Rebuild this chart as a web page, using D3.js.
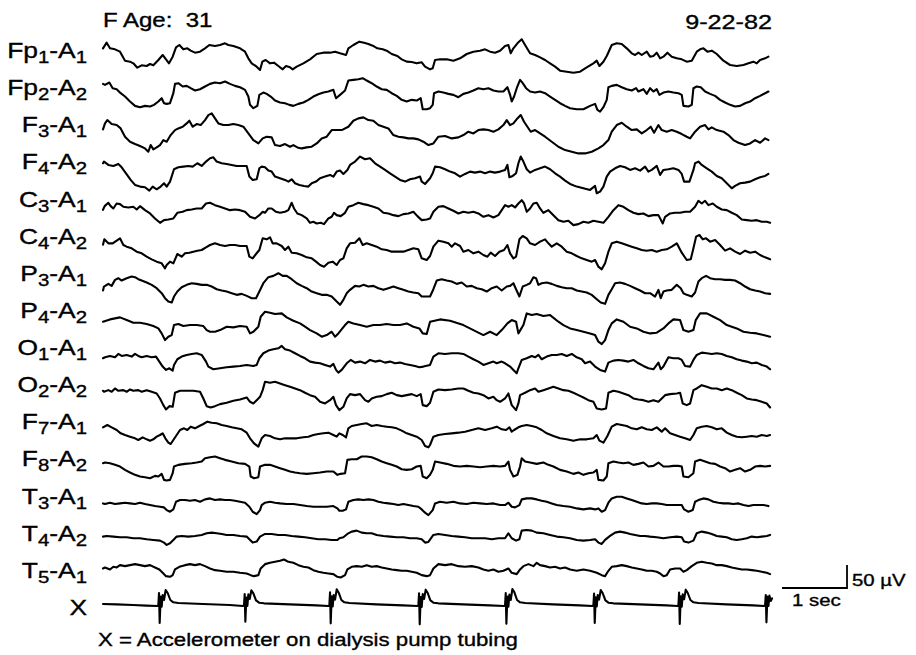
<!DOCTYPE html>
<html><head><meta charset="utf-8">
<script src="https://cdn.jsdelivr.net/npm/d3@7"></script>
<style>
body{margin:0;background:#fff}
svg{display:block}
text{font-family:"Liberation Sans",Arial,Helvetica,sans-serif;fill:#000;stroke:#000;stroke-width:0.35px;white-space:pre}
</style>
</head><body>
<svg id="chart" width="916" height="655"></svg>
<script>
// ---------- metadata ----------
const FS = 195;                 // samples per second
const UV_PER_COUNT = 50 / 69;   // calibration: counts -> microvolts
const titleLeft = "F Age:  31";
const titleRight = "9-22-82";
const footnote = "X = Accelerometer on dialysis pump tubing";
const calTimeLabel = "1 sec";
const calAmpLabel = "50 µV";
const calSeconds = 1;
const calMicrovolts = 50;

// channel labels: [electrode, index, reference, index]
const labelParts = [
  ["Fp","1","A","1"],["Fp","2","A","2"],["F","3","A","1"],["F","4","A","2"],
  ["C","3","A","1"],["C","4","A","2"],["P","3","A","1"],["P","4","A","2"],
  ["O","1","A","1"],["O","2","A","2"],["F","7","A","1"],["F","8","A","2"],
  ["T","3","A","1"],["T","4","A","2"],["T","5","A","1"],["X"]
];

// ---------- signals: [sample, counts] ----------
const fp1A1 = [[0,26],[11,43],[21,26],[36,23],[51,16],[66,-11],[81,-14],[91,-19],[103,-32],[116,-25],[131,-27],[141,-21],[151,-25],[166,-9],[179,6],[189,-7],[198,-19],[209,1],[219,29],[229,36],[241,23],[253,26],[263,19],[276,13],[291,16],[306,26],[319,36],[336,33],[351,36],[366,41],[376,36],[391,33],[411,26],[426,16],[436,-4],[446,-19],[461,-29],[471,-39],[478,-14],[488,-9],[501,-19],[513,-17],[526,-27],[539,-37],[549,-27],[561,-31],[569,-37],[581,-29],[601,-19],[621,-7],[641,9],[661,13],[681,13],[696,16],[711,11],[729,6],[736,26],[751,36],[769,46],[783,43],[796,39],[809,34],[823,26],[839,23],[851,19],[866,9],[883,3],[896,-7],[911,-14],[926,-15],[941,-19],[956,-16],[966,-29],[981,-37],[989,-34],[996,-9],[1011,-7],[1031,-7],[1051,-11],[1071,-4],[1091,9],[1111,16],[1131,19],[1146,23],[1161,16],[1176,13],[1191,19],[1206,33],[1216,36],[1223,11],[1231,26],[1243,41],[1256,53],[1266,36],[1281,11],[1296,6],[1311,-1],[1326,-9],[1341,-19],[1356,-29],[1371,-41],[1391,-44],[1411,-47],[1431,-44],[1451,-31],[1471,-19],[1481,-11],[1489,-27],[1501,-14],[1511,3],[1526,36],[1541,41],[1556,39],[1571,26],[1586,11],[1596,6],[1606,13],[1616,6],[1631,16],[1641,1],[1651,3],[1661,13],[1671,-4],[1681,1],[1693,13],[1706,1],[1721,-4],[1736,-7],[1751,-14],[1766,-11],[1781,16],[1791,23],[1801,26],[1813,16],[1826,19],[1841,9],[1861,-11],[1881,-24],[1901,-27],[1921,-24],[1936,-19],[1951,-14],[1961,-19],[1971,-9],[1986,-4],[1996,1]];

const fp2A2 = [[0,29],[6,26],[19,33],[29,16],[41,13],[53,1],[66,-9],[81,-24],[96,-37],[111,-41],[126,-37],[141,-39],[153,-34],[166,-24],[176,-14],[183,-29],[191,-31],[201,-29],[211,1],[216,29],[226,31],[239,21],[251,23],[263,16],[276,9],[291,13],[306,21],[321,29],[336,33],[351,31],[366,36],[381,29],[396,23],[411,19],[426,11],[436,-9],[441,-34],[451,-44],[463,-37],[469,-4],[481,3],[491,-1],[503,-9],[516,-21],[531,-27],[546,-29],[559,-34],[571,-37],[586,-31],[601,-27],[616,-19],[631,-9],[646,-2],[661,3],[676,6],[691,11],[699,-14],[711,-4],[726,9],[736,39],[751,41],[766,43],[779,46],[791,39],[806,31],[821,21],[836,13],[851,11],[866,1],[881,-7],[896,-19],[911,-24],[926,-19],[941,-21],[953,-14],[959,-47],[971,-47],[981,-44],[989,-34],[993,1],[1006,6],[1021,3],[1036,-1],[1051,-4],[1066,-11],[1081,-1],[1096,3],[1111,9],[1126,16],[1141,13],[1156,16],[1171,9],[1186,6],[1201,6],[1213,19],[1221,-4],[1226,-24],[1233,-9],[1241,16],[1251,41],[1259,31],[1269,16],[1281,6],[1296,3],[1311,6],[1326,1],[1341,-9],[1356,-19],[1371,-29],[1386,-37],[1401,-44],[1421,-47],[1441,-47],[1461,-37],[1476,-31],[1483,-49],[1491,-54],[1501,-41],[1511,-19],[1516,19],[1526,23],[1541,26],[1556,19],[1571,13],[1586,9],[1599,16],[1606,6],[1621,13],[1631,-1],[1641,16],[1651,6],[1661,13],[1669,-4],[1681,3],[1696,6],[1711,3],[1726,1],[1736,-4],[1741,-37],[1756,-39],[1766,-34],[1771,16],[1781,21],[1793,19],[1806,6],[1821,-1],[1836,-7],[1851,-19],[1866,-27],[1881,-34],[1896,-39],[1911,-37],[1926,-29],[1941,-24],[1956,-14],[1971,-7],[1986,1],[1996,6]];

const f3A1 = [[0,2],[6,20],[13,30],[26,18],[41,15],[53,5],[66,-20],[81,-35],[96,-42],[111,-48],[126,-55],[136,-65],[143,-45],[151,-58],[161,-52],[171,-45],[181,-30],[191,-35],[203,-15],[216,0],[226,5],[239,10],[251,20],[259,28],[269,10],[281,18],[293,15],[306,30],[316,45],[326,50],[336,35],[346,20],[361,15],[376,15],[391,18],[406,15],[421,10],[436,-10],[451,-30],[466,-40],[479,-25],[491,-20],[506,-22],[516,-45],[531,-48],[546,-42],[561,-50],[571,-45],[583,-52],[596,-55],[611,-52],[626,-50],[641,-40],[656,-25],[671,-20],[686,0],[701,0],[716,0],[736,10],[751,28],[766,35],[781,38],[796,30],[811,28],[826,15],[841,10],[856,5],[871,-15],[886,-20],[901,-22],[916,-25],[931,-25],[946,-28],[961,-35],[976,-45],[991,-40],[1006,-20],[1026,-18],[1046,-25],[1066,-22],[1081,-15],[1096,-5],[1111,-10],[1126,0],[1141,2],[1156,0],[1171,-5],[1186,2],[1201,15],[1211,30],[1221,15],[1231,20],[1243,35],[1253,45],[1263,25],[1273,10],[1283,-5],[1296,0],[1311,-10],[1326,-20],[1346,-35],[1366,-50],[1386,-60],[1406,-65],[1426,-70],[1446,-70],[1466,-65],[1486,-55],[1501,-45],[1516,-30],[1526,-5],[1541,15],[1556,22],[1571,10],[1586,0],[1601,2],[1616,-10],[1631,0],[1643,10],[1653,-8],[1666,15],[1676,0],[1691,-5],[1706,0],[1721,-5],[1736,-12],[1751,-20],[1761,-25],[1776,-5],[1791,10],[1806,15],[1816,2],[1826,8],[1841,0],[1861,-5],[1876,-15],[1891,-30],[1906,-38],[1926,-45],[1941,-40],[1956,-30],[1971,-38],[1986,-25],[1996,-30]];

const f4A2 = [[0,10],[3,15],[16,5],[31,2],[46,8],[56,-2],[69,-20],[83,-40],[96,-55],[111,-60],[126,-62],[139,-72],[149,-60],[161,-68],[173,-60],[183,-50],[191,-60],[201,-45],[213,-8],[226,-2],[241,0],[256,2],[269,0],[283,10],[296,2],[309,15],[321,25],[331,28],[341,15],[356,10],[371,8],[386,5],[401,2],[416,2],[431,2],[439,-30],[449,-40],[461,-38],[469,-5],[476,0],[486,-2],[496,-12],[506,-15],[516,-30],[531,-35],[546,-40],[556,-45],[566,-38],[576,-50],[589,-55],[603,-58],[616,-60],[626,-50],[639,-45],[651,-35],[666,-30],[681,-25],[691,-30],[701,-15],[711,-12],[721,-22],[733,-10],[741,5],[756,15],[771,30],[786,22],[801,25],[816,10],[831,0],[846,-10],[861,-20],[876,-30],[891,-40],[906,-45],[921,-38],[936,-35],[951,-30],[956,-45],[966,-52],[981,-35],[989,-20],[996,0],[1011,-2],[1026,-8],[1041,-15],[1056,-20],[1071,-30],[1086,-22],[1101,-15],[1116,-18],[1131,-15],[1146,-20],[1161,-15],[1176,-18],[1191,-15],[1206,-10],[1213,5],[1219,-32],[1229,-28],[1239,-20],[1246,10],[1253,30],[1261,15],[1271,-8],[1281,-18],[1296,-10],[1311,-5],[1326,0],[1341,-8],[1356,-20],[1371,-30],[1386,-42],[1401,-52],[1421,-60],[1441,-65],[1461,-70],[1476,-58],[1481,-80],[1491,-75],[1501,-60],[1511,-30],[1521,-15],[1536,-5],[1551,2],[1566,-2],[1581,-10],[1596,-5],[1611,-12],[1626,0],[1636,-15],[1646,-10],[1661,2],[1671,-25],[1681,-10],[1696,-8],[1711,-5],[1726,-10],[1736,-22],[1743,-45],[1759,-45],[1771,-10],[1776,10],[1786,15],[1796,5],[1811,-5],[1826,-15],[1841,-28],[1856,-35],[1871,-50],[1886,-65],[1896,-58],[1911,-50],[1926,-48],[1941,-45],[1956,-38],[1971,-32],[1986,-28],[1996,-22]];

const c3A1 = [[0,-20],[5,-9],[16,1],[23,-9],[31,-16],[41,-1],[51,-3],[61,-11],[76,-13],[91,-11],[101,-19],[111,-9],[126,-21],[141,-31],[156,-46],[171,-59],[183,-51],[196,-49],[211,-46],[223,-29],[239,-26],[251,-21],[266,-19],[281,-16],[296,-16],[309,-1],[321,1],[336,-6],[351,-11],[366,-16],[381,-21],[396,-19],[411,-21],[426,-26],[441,-41],[456,-46],[469,-36],[479,-26],[486,-29],[496,-16],[506,-16],[519,-26],[531,-29],[546,-26],[556,-21],[566,1],[573,-16],[583,-31],[596,-36],[611,-46],[621,-59],[631,-56],[641,-61],[653,-59],[663,-63],[676,-46],[686,-41],[693,-29],[701,-36],[713,-39],[726,-29],[736,-11],[751,-6],[766,1],[781,-3],[796,-6],[811,-11],[826,-16],[841,-29],[856,-31],[871,-36],[886,-39],[901,-33],[916,-31],[931,-26],[943,-39],[956,-51],[971,-49],[981,-46],[991,-26],[1006,-11],[1021,-9],[1036,-16],[1051,-23],[1066,-31],[1081,-26],[1096,-29],[1111,-26],[1126,-31],[1141,-41],[1156,-36],[1171,-43],[1186,-36],[1196,-21],[1206,-6],[1216,-11],[1226,-6],[1236,-13],[1246,-1],[1256,9],[1263,-1],[1271,-26],[1281,-16],[1291,-1],[1301,1],[1311,-16],[1321,-29],[1336,-21],[1351,-36],[1366,-51],[1381,-56],[1396,-53],[1411,-66],[1426,-63],[1441,-56],[1456,-59],[1471,-53],[1486,-56],[1501,-59],[1516,-41],[1531,-21],[1546,-6],[1561,-11],[1576,-21],[1591,-29],[1606,-33],[1621,-31],[1636,-39],[1651,-36],[1666,-36],[1679,-61],[1686,-41],[1701,-31],[1716,-29],[1731,-29],[1746,-26],[1761,-26],[1776,-11],[1786,7],[1796,-1],[1806,7],[1816,-6],[1829,-1],[1841,-11],[1856,-19],[1871,-21],[1886,-29],[1901,-36],[1916,-49],[1931,-51],[1946,-53],[1961,-51],[1976,-56],[1991,-56],[2001,-59]];

const c4A2 = [[0,-15],[4,1],[16,-11],[29,-11],[41,-3],[51,4],[61,-16],[71,-21],[86,-26],[101,-36],[116,-41],[131,-51],[146,-59],[161,-66],[176,-71],[186,-86],[191,-76],[201,-66],[211,-71],[223,-43],[236,-51],[246,-41],[259,-39],[271,-36],[283,-33],[296,-31],[309,-23],[321,-16],[336,-11],[351,-16],[366,-19],[381,-16],[396,-16],[411,-19],[431,-19],[439,-51],[449,-56],[459,-43],[469,-31],[479,4],[491,1],[501,7],[509,-11],[521,-11],[536,-19],[546,-31],[556,-21],[566,-39],[581,-41],[596,-46],[611,-53],[626,-56],[639,-66],[651,-76],[663,-81],[676,-69],[689,-66],[701,-76],[711,-61],[721,-56],[731,-26],[741,-11],[756,-9],[769,4],[779,-16],[791,-11],[806,-16],[821,-21],[836,-29],[851,-31],[866,-36],[886,-36],[901,-36],[916,-31],[931,-26],[946,-29],[956,-56],[971,-61],[981,-49],[991,-21],[1006,-3],[1021,-6],[1036,-11],[1046,-21],[1056,-11],[1071,-19],[1081,-36],[1096,-31],[1111,-41],[1126,-36],[1141,-46],[1153,-51],[1163,-39],[1176,-49],[1189,-36],[1203,-31],[1213,-16],[1221,-41],[1231,-56],[1239,-51],[1249,1],[1259,11],[1271,4],[1281,-11],[1296,-16],[1311,-6],[1326,1],[1336,-11],[1346,-21],[1361,-11],[1376,-21],[1391,-36],[1406,-41],[1421,-49],[1436,-56],[1451,-61],[1466,-66],[1476,-61],[1486,-81],[1496,-89],[1506,-71],[1516,-36],[1526,-11],[1541,-6],[1556,-11],[1571,-16],[1586,-21],[1601,-26],[1616,-31],[1631,-33],[1646,-31],[1661,-36],[1676,-31],[1691,-29],[1706,-21],[1721,-11],[1736,-39],[1751,-61],[1763,-59],[1771,-26],[1779,9],[1789,14],[1799,1],[1809,4],[1821,-6],[1836,-1],[1851,-16],[1866,-33],[1881,-26],[1896,-36],[1911,-43],[1926,-33],[1941,-39],[1956,-36],[1971,-46],[1986,-53],[2001,-59]];

const p3A1 = [[0,-43],[3,-31],[16,-23],[26,-29],[36,-11],[46,-6],[56,-13],[71,-6],[86,-1],[96,-3],[106,-9],[116,-13],[131,-19],[146,-26],[161,-36],[176,-51],[186,-66],[196,-76],[206,-79],[213,-61],[223,-46],[236,-33],[251,-26],[266,-21],[281,-23],[296,-26],[311,-26],[326,-31],[341,-39],[356,-43],[371,-46],[386,-51],[401,-56],[416,-53],[431,-59],[446,-66],[459,-66],[469,-46],[481,-21],[496,-3],[511,1],[526,9],[539,1],[551,1],[566,-9],[581,-21],[596,-29],[611,-36],[626,-46],[641,-51],[656,-56],[671,-56],[686,-61],[701,-76],[711,-86],[721,-71],[731,-51],[741,-41],[756,-29],[769,-31],[781,-26],[796,-31],[811,-29],[826,-36],[841,-41],[856,-36],[871,-31],[886,-36],[901,-41],[916,-46],[931,-49],[946,-51],[956,-61],[971,-61],[981,-61],[991,-39],[1001,-13],[1016,-9],[1031,-13],[1046,-16],[1061,-23],[1076,-19],[1091,-31],[1106,-29],[1121,-36],[1136,-39],[1151,-46],[1166,-36],[1181,-31],[1196,-43],[1211,-31],[1221,-29],[1231,-21],[1239,-39],[1249,-61],[1259,-31],[1271,-26],[1281,-21],[1291,-3],[1299,-6],[1306,-26],[1316,-21],[1331,-19],[1346,-23],[1361,-29],[1376,-33],[1391,-36],[1406,-36],[1421,-43],[1436,-46],[1451,-49],[1466,-56],[1481,-69],[1493,-79],[1506,-83],[1516,-56],[1526,-39],[1536,-21],[1551,-19],[1566,-23],[1581,-29],[1596,-36],[1611,-43],[1626,-51],[1641,-51],[1656,-61],[1666,-41],[1673,-66],[1681,-46],[1691,-43],[1706,-41],[1721,-26],[1733,-36],[1741,-51],[1751,-56],[1766,-61],[1776,-49],[1786,-16],[1796,-6],[1809,1],[1821,-6],[1836,-9],[1851,-9],[1866,-11],[1881,-11],[1896,-13],[1911,-21],[1926,-31],[1941,-39],[1956,-43],[1971,-46],[1986,-51],[2001,-53]];

const p4A2 = [[0,-27],[21,-20],[51,-14],[71,-22],[91,-30],[111,-30],[131,-34],[151,-40],[166,-47],[176,-62],[186,-82],[196,-72],[206,-67],[213,-37],[226,-34],[241,-40],[261,-37],[281,-37],[301,-40],[311,-52],[321,-57],[336,-57],[351,-52],[371,-42],[391,-44],[411,-40],[431,-42],[441,-62],[451,-57],[466,-42],[473,-12],[486,3],[501,0],[516,-4],[536,-2],[551,-14],[571,-24],[591,-32],[606,-42],[621,-52],[641,-62],[656,-72],[671,-67],[686,-57],[696,-72],[706,-62],[726,-37],[736,-27],[751,-32],[771,-37],[791,-42],[811,-37],[831,-37],[851,-34],[871,-37],[891,-37],[911,-32],[931,-42],[949,-47],[959,-62],[971,-64],[981,-27],[1011,-20],[1041,-24],[1081,-37],[1111,-52],[1141,-67],[1161,-57],[1181,-67],[1196,-52],[1213,-32],[1226,-22],[1239,-27],[1246,-62],[1261,-37],[1271,-2],[1286,-7],[1301,-4],[1321,-10],[1341,-7],[1366,-27],[1381,-37],[1401,-47],[1421,-52],[1441,-57],[1461,-62],[1476,-67],[1486,-87],[1496,-94],[1506,-82],[1516,-52],[1526,-32],[1541,-20],[1561,-27],[1581,-42],[1601,-47],[1621,-57],[1641,-62],[1661,-60],[1681,-47],[1696,-32],[1711,-20],[1731,-22],[1741,-52],[1756,-57],[1771,-52],[1778,-22],[1791,-2],[1811,-2],[1831,-12],[1851,-22],[1871,-37],[1901,-47],[1921,-57],[1941,-60],[1961,-62],[1981,-67],[2001,-72]];

const o1A1 = [[0,-27],[6,-24],[21,-20],[36,-24],[46,-14],[56,-20],[71,-17],[86,-22],[96,-14],[106,-20],[116,-24],[131,-20],[146,-24],[159,-22],[169,-37],[179,-52],[189,-62],[199,-57],[209,-64],[213,-47],[223,-30],[236,-22],[251,-17],[266,-14],[281,-12],[296,-17],[309,-37],[316,-52],[331,-60],[351,-57],[371,-54],[391,-52],[411,-50],[431,-47],[451,-50],[461,-47],[469,-27],[481,-12],[496,-4],[511,0],[526,3],[536,10],[546,0],[561,-4],[576,-12],[591,-20],[606,-27],[621,-37],[636,-40],[651,-42],[666,-47],[681,-52],[691,-44],[699,-62],[706,-70],[716,-62],[731,-42],[743,-32],[756,-40],[771,-37],[786,-42],[801,-32],[816,-37],[831,-34],[846,-40],[861,-37],[876,-42],[891,-40],[906,-44],[921,-47],[936,-50],[949,-54],[961,-52],[981,-47],[991,-22],[1006,-12],[1026,-14],[1046,-12],[1066,-12],[1081,-14],[1096,-22],[1111,-30],[1126,-37],[1141,-47],[1156,-42],[1171,-37],[1181,-42],[1196,-37],[1206,-42],[1221,-52],[1231,-62],[1241,-72],[1246,-57],[1256,-32],[1271,-27],[1286,-20],[1296,-24],[1306,-17],[1316,-30],[1331,-22],[1346,-17],[1361,-17],[1376,-14],[1391,-20],[1406,-14],[1421,-24],[1436,-30],[1446,-42],[1461,-37],[1476,-52],[1491,-62],[1506,-67],[1516,-40],[1531,-34],[1546,-32],[1561,-34],[1576,-37],[1591,-32],[1606,-42],[1621,-50],[1636,-57],[1651,-60],[1666,-40],[1673,-60],[1681,-52],[1696,-24],[1711,-27],[1726,-27],[1736,-32],[1746,-50],[1761,-52],[1771,-32],[1781,-17],[1796,-10],[1811,-12],[1826,-14],[1841,-12],[1856,-14],[1871,-20],[1886,-24],[1901,-30],[1916,-34],[1931,-37],[1946,-42],[1961,-40],[1976,-47],[1991,-52],[2001,-60]];

const o2A2 = [[0,-15],[3,-18],[16,-13],[26,-18],[36,-8],[46,-15],[61,-13],[71,-18],[81,-11],[91,-15],[106,-13],[116,-18],[131,-13],[146,-18],[161,-23],[171,-38],[181,-58],[189,-71],[199,-61],[209,-63],[216,-21],[231,-15],[251,-15],[271,-15],[291,-18],[301,-38],[311,-61],[323,-65],[336,-61],[351,-55],[371,-51],[391,-45],[411,-41],[431,-35],[441,-48],[451,-53],[461,-43],[471,-33],[479,-13],[486,12],[501,9],[516,12],[531,7],[546,2],[561,-3],[576,-8],[591,-13],[606,-21],[621,-28],[636,-33],[651,-48],[666,-53],[681,-43],[691,-33],[699,-58],[709,-73],[721,-63],[731,-38],[741,-25],[756,-28],[771,-25],[786,-43],[796,-48],[806,-38],[821,-33],[836,-31],[851,-25],[866,-21],[881,-28],[896,-31],[911,-28],[926,-25],[941,-31],[953,-25],[959,-58],[971,-61],[981,-51],[991,-18],[1006,-11],[1026,-13],[1046,-11],[1066,-8],[1081,-8],[1096,-15],[1111,-21],[1126,-23],[1141,-28],[1156,-38],[1171,-33],[1181,-43],[1191,-48],[1206,-38],[1216,-23],[1226,-58],[1239,-73],[1246,-53],[1251,-28],[1266,-21],[1281,-13],[1296,-8],[1306,-18],[1321,-13],[1336,-8],[1351,-3],[1366,-8],[1381,-13],[1396,-15],[1411,-21],[1426,-28],[1441,-35],[1456,-43],[1471,-48],[1481,-68],[1496,-71],[1509,-68],[1516,-21],[1531,-15],[1546,-18],[1561,-23],[1576,-28],[1591,-38],[1606,-41],[1621,-43],[1636,-48],[1651,-43],[1666,-48],[1676,-38],[1686,-28],[1701,-25],[1721,-23],[1731,-21],[1739,-53],[1751,-58],[1761,-53],[1771,-13],[1781,-8],[1796,2],[1811,-3],[1826,-8],[1841,-8],[1856,-13],[1871,-8],[1886,-13],[1901,-21],[1916,-28],[1931,-38],[1946,-41],[1961,-43],[1976,-48],[1991,-53],[2001,-65]];

const f7A1 = [[0,-15],[13,-8],[26,-15],[41,-23],[53,-33],[66,-38],[81,-43],[96,-48],[106,-53],[119,-45],[131,-51],[141,-55],[151,-51],[161,-43],[171,-38],[179,-33],[187,-48],[196,-61],[203,-65],[211,-53],[219,-41],[231,-23],[243,-18],[253,-23],[263,-13],[276,-18],[289,-11],[301,-5],[313,2],[326,-1],[341,-3],[356,-8],[371,-11],[386,-15],[401,-18],[416,-21],[431,-31],[441,-48],[453,-63],[466,-73],[476,-48],[486,-38],[501,-41],[516,-48],[531,-51],[546,-48],[561,-48],[581,-48],[601,-45],[616,-43],[631,-38],[646,-35],[661,-33],[676,-31],[691,-38],[701,-43],[709,-33],[719,-38],[729,-45],[736,-18],[746,-11],[761,-8],[776,-5],[791,-3],[806,-11],[821,-8],[836,-11],[851,-13],[866,-15],[881,-18],[896,-25],[911,-33],[926,-38],[941,-43],[956,-53],[966,-71],[976,-75],[981,-68],[991,-43],[1006,-38],[1026,-35],[1046,-33],[1066,-31],[1086,-28],[1106,-23],[1126,-18],[1146,-23],[1166,-18],[1181,-13],[1196,-21],[1209,-23],[1219,-15],[1226,-28],[1233,-23],[1246,-15],[1256,-11],[1271,-8],[1286,-11],[1301,-15],[1316,-23],[1331,-33],[1351,-41],[1371,-48],[1391,-51],[1411,-55],[1431,-51],[1451,-51],[1471,-48],[1481,-38],[1489,-55],[1501,-61],[1513,-41],[1526,-13],[1541,-5],[1556,-8],[1571,-11],[1586,-18],[1601,-21],[1616,-15],[1631,-21],[1646,-23],[1661,-15],[1676,-28],[1686,-18],[1701,-33],[1716,-38],[1731,-43],[1746,-48],[1761,-53],[1771,-38],[1781,-18],[1796,-13],[1811,-11],[1826,-15],[1841,-21],[1856,-18],[1871,-31],[1886,-38],[1901,-43],[1916,-45],[1931,-43],[1946,-41],[1961,-43],[1976,-38],[1991,-41],[2001,-38]];

const f8A2 = [[0,-13],[6,-11],[21,-13],[36,-18],[51,-23],[66,-33],[81,-41],[96,-48],[111,-53],[126,-55],[141,-58],[156,-51],[166,-53],[176,-45],[183,-63],[191,-65],[201,-63],[209,-43],[213,-23],[226,-18],[246,-15],[266,-13],[281,-11],[296,-8],[306,2],[321,5],[336,7],[351,2],[366,-3],[386,-8],[406,-13],[426,-15],[439,-23],[443,-53],[453,-58],[466,-55],[471,-23],[486,-18],[501,-18],[516,-23],[531,-28],[546,-33],[561,-38],[576,-41],[591,-43],[611,-45],[631,-43],[651,-41],[671,-38],[691,-38],[703,-48],[713,-45],[726,-43],[733,-3],[746,-1],[761,-1],[776,7],[791,7],[806,5],[821,-1],[836,-8],[851,-13],[866,-18],[881,-23],[896,-31],[911,-33],[926,-31],[941,-23],[953,-21],[959,-53],[971,-58],[981,-48],[989,-33],[996,-8],[1011,-11],[1031,-15],[1051,-21],[1071,-23],[1091,-21],[1111,-23],[1131,-25],[1151,-23],[1171,-21],[1191,-23],[1206,-21],[1216,-8],[1221,-33],[1231,-53],[1243,-48],[1251,-23],[1256,2],[1266,-8],[1281,-11],[1301,-15],[1321,-11],[1336,-18],[1351,-23],[1371,-33],[1391,-38],[1411,-45],[1426,-41],[1441,-48],[1456,-43],[1471,-41],[1481,-33],[1486,-63],[1501,-65],[1511,-53],[1516,-13],[1531,-8],[1546,-11],[1561,-13],[1576,-11],[1591,-18],[1606,-15],[1621,-11],[1636,-23],[1651,-21],[1666,-11],[1681,-23],[1696,-23],[1711,-21],[1726,-21],[1736,-23],[1741,-53],[1756,-55],[1771,-43],[1776,-8],[1791,-3],[1806,-8],[1821,-13],[1836,-15],[1851,-23],[1866,-28],[1881,-38],[1896,-33],[1911,-28],[1926,-38],[1941,-33],[1956,-23],[1971,-21],[1986,-23],[2001,-21]];

const t3A1 = [[0,-24],[6,-26],[21,-22],[36,-26],[51,-24],[66,-22],[81,-24],[96,-26],[111,-22],[126,-26],[141,-29],[156,-32],[171,-34],[183,-36],[191,-44],[201,-49],[211,-42],[219,-19],[231,-14],[246,-14],[261,-16],[276,-14],[291,-19],[306,-12],[321,-9],[336,-14],[351,-12],[366,-14],[381,-14],[396,-16],[411,-19],[426,-22],[439,-34],[449,-49],[461,-56],[471,-44],[476,-29],[486,-22],[501,-19],[516,-22],[531,-24],[551,-26],[571,-26],[591,-29],[611,-32],[631,-34],[651,-34],[671,-34],[691,-32],[703,-39],[709,-46],[719,-46],[729,-42],[736,-19],[751,-14],[766,-12],[781,-14],[796,-12],[811,-14],[826,-19],[841,-22],[856,-24],[871,-26],[886,-29],[901,-26],[916,-29],[931,-32],[946,-34],[956,-42],[966,-52],[976,-59],[989,-44],[996,-24],[1011,-19],[1031,-22],[1051,-19],[1071,-24],[1091,-26],[1111,-22],[1131,-24],[1151,-26],[1171,-24],[1191,-29],[1206,-29],[1216,-22],[1226,-34],[1236,-36],[1249,-29],[1256,-12],[1271,-9],[1286,-9],[1301,-12],[1316,-16],[1331,-19],[1346,-24],[1361,-29],[1381,-32],[1401,-34],[1421,-39],[1441,-42],[1461,-39],[1476,-42],[1486,-39],[1496,-49],[1506,-44],[1516,-22],[1526,-9],[1541,-4],[1556,-4],[1571,-9],[1586,-14],[1601,-19],[1616,-24],[1631,-26],[1646,-24],[1661,-24],[1676,-26],[1691,-29],[1706,-29],[1721,-29],[1736,-29],[1743,-42],[1756,-49],[1769,-44],[1776,-19],[1786,-14],[1801,-9],[1816,-12],[1831,-19],[1846,-22],[1861,-24],[1876,-24],[1891,-26],[1906,-24],[1921,-29],[1936,-32],[1951,-29],[1966,-29],[1981,-29],[1996,-32]];

const t4A2 = [[0,-14],[11,-12],[31,-14],[51,-16],[71,-16],[91,-19],[111,-19],[131,-22],[151,-24],[171,-26],[183,-32],[191,-39],[201,-34],[211,-24],[221,-14],[236,-12],[256,-14],[276,-12],[296,-9],[311,-4],[326,-2],[341,-4],[356,-6],[371,-9],[391,-9],[411,-12],[431,-14],[439,-22],[449,-32],[461,-29],[471,-14],[486,-6],[506,-6],[526,-9],[546,-9],[566,-12],[586,-14],[606,-16],[626,-19],[646,-22],[666,-22],[686,-24],[703,-24],[709,-19],[721,-16],[733,-6],[746,1],[761,4],[776,-2],[791,-4],[806,-4],[821,-9],[841,-12],[861,-14],[881,-16],[901,-16],[921,-19],[941,-19],[956,-22],[966,-32],[976,-30],[991,-9],[1006,-6],[1026,-9],[1046,-12],[1066,-14],[1086,-16],[1106,-19],[1126,-19],[1146,-19],[1166,-22],[1186,-19],[1206,-19],[1216,-4],[1226,-19],[1239,-26],[1249,-22],[1256,4],[1271,6],[1286,4],[1301,-2],[1321,-4],[1341,-9],[1361,-14],[1381,-16],[1401,-19],[1421,-24],[1441,-26],[1461,-24],[1476,-22],[1486,-32],[1496,-36],[1506,-24],[1521,-12],[1536,-2],[1551,1],[1566,-2],[1581,-6],[1596,-9],[1611,-12],[1626,-12],[1641,-14],[1661,-16],[1681,-19],[1701,-16],[1721,-14],[1736,-16],[1743,-29],[1756,-32],[1771,-26],[1781,-4],[1796,1],[1811,-2],[1826,-6],[1841,-12],[1856,-14],[1871,-16],[1886,-22],[1901,-24],[1916,-22],[1931,-19],[1946,-14],[1961,-16],[1976,-14],[1991,-12],[2001,-9]];

const t5A1 = [[0,0],[6,3],[21,-3],[31,5],[41,3],[51,10],[66,7],[81,10],[96,13],[111,10],[126,7],[141,10],[156,3],[169,-3],[179,-13],[189,-23],[201,-25],[209,-20],[216,-3],[229,5],[246,10],[261,13],[276,10],[291,13],[306,7],[321,0],[336,-5],[351,-7],[371,-10],[391,-10],[411,-13],[431,-15],[443,-20],[453,-23],[466,-20],[473,0],[486,13],[501,17],[516,20],[531,23],[543,27],[556,20],[571,17],[586,10],[601,5],[616,3],[631,-5],[646,-10],[661,-13],[676,-15],[691,-17],[703,-25],[713,-27],[726,-20],[733,-3],[746,5],[761,7],[776,5],[791,10],[806,5],[821,7],[836,3],[851,0],[866,-3],[881,-5],[896,-7],[911,-7],[926,-10],[941,-13],[956,-20],[971,-23],[981,-20],[991,0],[1006,13],[1026,10],[1046,13],[1066,7],[1086,5],[1106,7],[1126,3],[1141,-3],[1156,-7],[1171,-3],[1186,-10],[1201,-7],[1216,0],[1226,-13],[1241,-17],[1251,-3],[1261,7],[1276,13],[1291,7],[1301,17],[1311,10],[1326,7],[1341,3],[1356,5],[1371,0],[1386,3],[1401,-3],[1421,-7],[1441,-3],[1461,-7],[1481,-13],[1496,-20],[1506,-23],[1516,-7],[1526,5],[1541,7],[1556,10],[1571,7],[1586,3],[1601,0],[1616,-3],[1631,-7],[1646,-7],[1661,-10],[1671,-15],[1681,-23],[1691,-20],[1701,-3],[1716,0],[1731,0],[1741,-10],[1751,-5],[1766,7],[1781,17],[1796,20],[1811,17],[1826,15],[1841,10],[1856,10],[1871,7],[1886,3],[1901,0],[1916,-3],[1931,-3],[1946,-5],[1961,-7],[1976,-10],[1991,-13],[2001,-17]];

const accelX = [[0,3],[40,2],[90,0],[130,-2],[163,-3],[166,0],[168,36],[170,-54],[173,25],[176,-5],[179,30],[183,15],[188,45],[194,36],[202,15],[211,8],[226,6],[300,3],[380,0],[420,-3],[423,0],[425,33],[427,-50],[430,22],[433,-3],[436,32],[440,18],[445,44],[451,35],[459,14],[468,7],[483,5],[560,2],[640,-1],[676,-3],[679,0],[681,38],[683,-55],[686,26],[689,-4],[692,30],[696,16],[701,47],[707,37],[715,15],[724,8],[739,6],[820,2],[900,-1],[943,-3],[946,0],[948,35],[950,-58],[953,24],[956,-6],[959,33],[963,18],[968,46],[974,36],[982,14],[991,7],[1006,5],[1080,2],[1160,-1],[1203,-3],[1206,0],[1208,36],[1210,-56],[1213,25],[1216,-5],[1219,31],[1223,15],[1228,48],[1234,38],[1242,15],[1251,8],[1266,6],[1350,2],[1430,-1],[1468,-3],[1471,0],[1473,34],[1475,-54],[1478,23],[1481,-4],[1484,30],[1488,16],[1493,45],[1499,35],[1507,14],[1516,7],[1531,5],[1610,2],[1690,-1],[1723,-3],[1726,0],[1728,37],[1730,-57],[1733,26],[1736,-5],[1739,32],[1743,17],[1748,46],[1754,36],[1762,15],[1771,8],[1786,6],[1870,2],[1950,-1],[1983,-3],[1986,0],[1988,30],[1990,-52],[1993,25],[1996,-3],[1999,28],[2003,12],[2007,20]];

const signals = [fp1A1, fp2A2, f3A1, f4A2, c3A1, c4A2, p3A1, p4A2, o1A1, o2A2, f7A1, f8A2, t3A1, t4A2, t5A1, accelX];

// ---------- drawing ----------
const svg = d3.select("#chart");
const TEXT_SX = 1.2;   // horizontal stretch of the lettering in the original

const x = d3.scaleLinear().domain([0, 10.26]).range([103, 770]);
const rowY = d3.scalePoint().domain(d3.range(signals.length)).range([57, 605]);
const labelY = d3.scalePoint().domain(d3.range(signals.length)).range([50, 607]);
const amp = d3.scaleLinear().domain([0, 50]).range([0, -23]);

const line = d3.line().curve(d3.curveLinear);

svg.append("g").selectAll("path")
  .data(signals)
  .join("path")
  .attr("fill", "none")
  .attr("stroke", "#000")
  .attr("stroke-width", 2.1)
  .attr("stroke-linejoin", "round")
  .attr("stroke-linecap", "round")
  .attr("d", (d, i) => line(d.map(([s, c]) => [x(s / FS), rowY(i) + amp(c * UV_PER_COUNT)])));

function stretchedText(px, py, anchor, size) {
  const g = svg.append("g").attr("transform", `translate(${px},${py}) scale(${TEXT_SX},1)`);
  return g.append("text").attr("text-anchor", anchor).attr("font-size", size);
}

// channel labels
labelParts.forEach((p, i) => {
  const t = stretchedText(87, labelY(i) + 8, "end", 22);
  if (p.length === 1) { t.text(p[0]); return; }
  t.append("tspan").text(p[0]);
  t.append("tspan").attr("font-size", 17).attr("dy", 5).text(p[1]);
  t.append("tspan").attr("dy", -5).text("-" + p[2]);
  t.append("tspan").attr("font-size", 17).attr("dy", 5).text(p[3]);
});

// titles
stretchedText(103, 27, "start", 20).text(titleLeft);
stretchedText(772, 29, "end", 21).text(titleRight);
stretchedText(98, 646, "start", 18.5).text(footnote);

// calibration bars
const calX0 = 782, calY0 = 588;
const calW = x(calSeconds) - x(0);
const calH = -amp(calMicrovolts);
svg.append("path")
  .attr("d", `M${calX0},${calY0}H${calX0 + calW}V${calY0 - calH}`)
  .attr("fill", "none").attr("stroke", "#000").attr("stroke-width", 1.8);
stretchedText(calX0 + calW + 5, 586, "start", 17).text(calAmpLabel);
stretchedText(792, 606, "start", 17).text(calTimeLabel);
</script>
</body></html>
